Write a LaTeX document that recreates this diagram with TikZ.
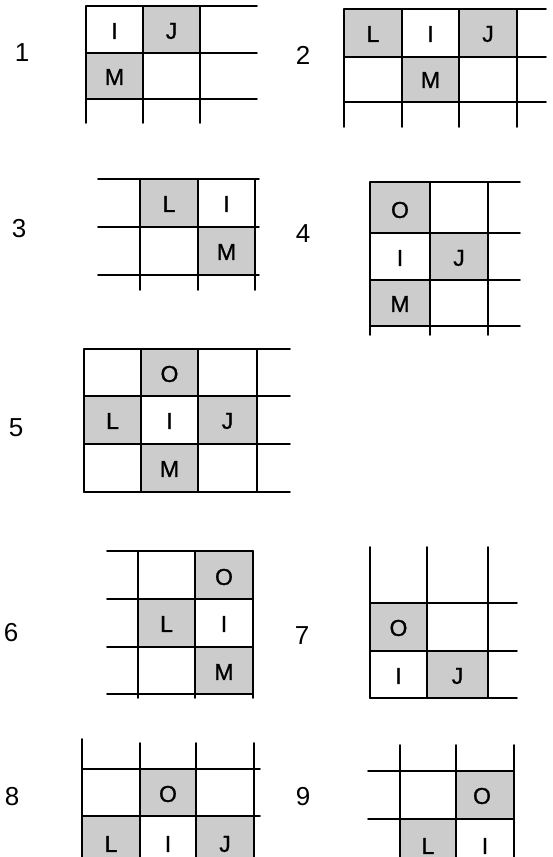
\documentclass[tikz,border=0pt]{standalone}
\usepackage{fontspec}
\setmainfont{Liberation Sans}
\begin{document}
\begin{tikzpicture}[x=1pt,y=-1pt,
  gl/.style={line width=1.9pt,line cap=round},
  sh/.style={fill=black!20},
  let/.style={font=\fontsize{23}{23}\selectfont\addfontfeature{FakeBold=1.2},inner sep=0pt},
  num/.style={font=\fontsize{26}{26}\selectfont,inner sep=0pt}]
\useasboundingbox[fill=white] (0,0) rectangle (552,857);
% ---------- Panel 1 ----------
\fill[sh] (143,6) rectangle (200,53);
\fill[sh] (86,53) rectangle (143,99);
\foreach \y in {6,53,99} \draw[gl] (86,\y) -- (257,\y);
\foreach \x in {86,143,200} \draw[gl] (\x,6) -- (\x,123);
\node[num] (n1) at (22,53) {1};
\node[let] (p1I) at (114.5,31) {I};
\node[let] (p1J) at (171.5,31) {J};
\node[let] (p1M) at (114.5,77) {M};
% ---------- Panel 2 ----------
\fill[sh] (344,9) rectangle (402,57);
\fill[sh] (459,9) rectangle (517,57);
\fill[sh] (402,57) rectangle (459,102);
\foreach \y in {9,57,102} \draw[gl] (344,\y) -- (546,\y);
\foreach \x in {344,402,459,517} \draw[gl] (\x,9) -- (\x,127);
\node[num] (n2) at (303,55) {2};
\node[let] (p2L) at (373,34) {L};
\node[let] (p2I) at (430.5,34) {I};
\node[let] (p2J) at (488,34) {J};
\node[let] (p2M) at (430.5,80) {M};
% ---------- Panel 3 ----------
\fill[sh] (140,179) rectangle (198,227);
\fill[sh] (198,227) rectangle (255,275);
\foreach \y in {179,227,275} \draw[gl] (98,\y) -- (259,\y);
\foreach \x in {140,198,255} \draw[gl] (\x,179) -- (\x,290);
\node[num] (n3) at (19,229) {3};
\node[let] (p3L) at (169,204) {L};
\node[let] (p3I) at (226.5,204) {I};
\node[let] (p3M) at (226.5,252) {M};
% ---------- Panel 4 ----------
\fill[sh] (370,182) rectangle (430,233);
\fill[sh] (430,233) rectangle (488,280);
\fill[sh] (370,280) rectangle (430,326);
\foreach \y in {182,233,280,326} \draw[gl] (370,\y) -- (520,\y);
\foreach \x in {370,430,488} \draw[gl] (\x,182) -- (\x,335);
\node[num] (n4) at (303,234) {4};
\node[let] (p4O) at (400,210) {O};
\node[let] (p4I) at (400,258) {I};
\node[let] (p4J) at (459,258) {J};
\node[let] (p4M) at (400,304) {M};
% ---------- Panel 5 ----------
\fill[sh] (141,349) rectangle (198,396);
\fill[sh] (84,396) rectangle (141,444);
\fill[sh] (198,396) rectangle (257,444);
\fill[sh] (141,444) rectangle (198,492);
\foreach \y in {349,396,444,492} \draw[gl] (84,\y) -- (290,\y);
\foreach \x in {84,141,198,257} \draw[gl] (\x,349) -- (\x,492);
\node[num] (n5) at (16,428) {5};
\node[let] (p5O) at (169.5,374) {O};
\node[let] (p5L) at (112.5,421) {L};
\node[let] (p5I) at (169.5,421) {I};
\node[let] (p5J) at (227.5,421) {J};
\node[let] (p5M) at (169.5,469) {M};
% ---------- Panel 6 ----------
\fill[sh] (195,551) rectangle (253,599);
\fill[sh] (138,599) rectangle (195,647);
\fill[sh] (195,647) rectangle (253,694);
\foreach \y in {551,599,647,694} \draw[gl] (107,\y) -- (253,\y);
\foreach \x in {138,195,253} \draw[gl] (\x,551) -- (\x,698);
\node[num] (n6) at (11,633) {6};
\node[let] (p6O) at (224,577) {O};
\node[let] (p6L) at (166.5,624) {L};
\node[let] (p6I) at (224,624) {I};
\node[let] (p6M) at (224,672) {M};
% ---------- Panel 7 ----------
\fill[sh] (370,603) rectangle (427,651);
\fill[sh] (427,651) rectangle (488,698);
\foreach \y in {603,651,698} \draw[gl] (370,\y) -- (517,\y);
\foreach \x in {370,427,488} \draw[gl] (\x,547) -- (\x,698);
\node[num] (n7) at (302,636) {7};
\node[let] (p7O) at (398.5,628) {O};
\node[let] (p7I) at (398.5,676) {I};
\node[let] (p7J) at (457.5,676) {J};
% ---------- Panel 8 ----------
\fill[sh] (140,769) rectangle (196,816);
\fill[sh] (82,816) rectangle (140,857);
\fill[sh] (196,816) rectangle (254,857);
\foreach \y in {769,816} \draw[gl] (82,\y) -- (260,\y);
\draw[gl] (82,739) -- (82,857);
\foreach \x in {140,196,254} \draw[gl] (\x,743) -- (\x,857);
\node[num] (n8) at (12,797) {8};
\node[let] (p8O) at (168,794) {O};
\node[let] (p8L) at (111,844) {L};
\node[let] (p8I) at (168,844) {I};
\node[let] (p8J) at (225,844) {J};
% ---------- Panel 9 ----------
\fill[sh] (456,771) rectangle (514,819);
\fill[sh] (400,819) rectangle (456,857);
\foreach \y in {771,819} \draw[gl] (368,\y) -- (514,\y);
\foreach \x in {400,456,514} \draw[gl] (\x,745) -- (\x,857);
\node[num] (n9) at (303,797) {9};
\node[let] (p9O) at (482,796) {O};
\node[let] (p9L) at (428,846) {L};
\node[let] (p9I) at (485,846) {I};
\end{tikzpicture}
\end{document}
